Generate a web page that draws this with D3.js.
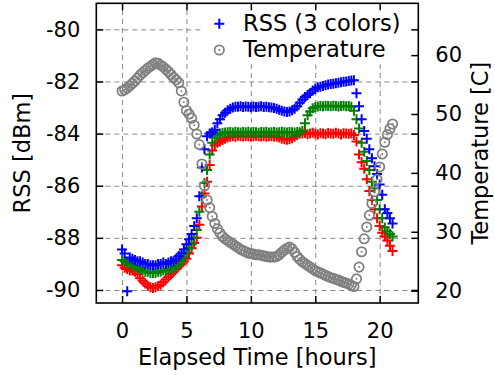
<!DOCTYPE html>
<html>
<head>
<meta charset="utf-8">
<script src="https://cdn.jsdelivr.net/npm/d3@7"></script>
<style>
  body { margin: 0; background: #fff; }
  text { font-family: "DejaVu Sans", sans-serif; fill: #000; }
</style>
</head>
<body>
<svg id="chart" width="495" height="375"></svg>
<script>
// sample times (hours)
var hours = [
    0,0.2,0.4,0.6,0.8,1,1.2,1.4,1.6,1.8,
    2,2.2,2.4,2.6,2.8,3,3.2,3.4,3.6,3.8,
    4,4.2,4.4,4.6,4.8,5,5.2,5.4,5.6,5.8,
    6,6.2,6.4,6.6,6.8,7,7.2,7.4,7.6,7.8,
    8,8.2,8.4,8.6,8.8,9,9.2,9.4,9.6,9.8,
    10,10.2,10.4,10.6,10.8,11,11.2,11.4,11.6,11.8,
    12,12.2,12.4,12.6,12.8,13,13.2,13.4,13.6,13.8,
    14,14.2,14.4,14.6,14.8,15,15.2,15.4,15.6,15.8,
    16,16.2,16.4,16.6,16.8,17,17.2,17.4,17.6,17.8,
    18,18.2,18.4,18.6,18.8,19,19.2,19.4,19.6,19.8,
    20,20.2,20.4,20.6,20.8,21
];
// RSS [dBm], three colours
var rssBlue = [
    -88.45,-88.6,-90.05,-88.75,-88.8,-88.85,-88.9,-88.9,-88.95,-89.0,
    -89.0,-89.05,-89.05,-89.05,-89.0,-89.0,-88.95,-89.0,-88.95,-88.9,
    -88.9,-88.8,-88.7,-88.6,-88.45,-88.25,-88.05,-87.85,-87.55,-87.25,
    -86.4,-85.3,-84.6,-84.1,-84.0,-83.95,-83.85,-83.6,-83.45,-83.3,
    -83.2,-83.1,-83.05,-83.0,-82.97,-82.97,-82.95,-82.98,-82.96,-82.97,
    -82.99,-82.96,-82.98,-82.97,-82.95,-82.98,-82.97,-82.99,-83.0,-83.02,
    -83.05,-83.08,-83.12,-83.15,-83.17,-83.15,-83.1,-83.05,-82.95,-82.82,
    -82.7,-82.6,-82.52,-82.45,-82.35,-82.28,-82.22,-82.2,-82.17,-82.14,
    -82.12,-82.1,-82.09,-82.07,-82.05,-82.03,-82.01,-82.0,-81.98,-81.96,
    -81.95,-82.45,-82.95,-83.45,-83.9,-84.2,-84.6,-84.95,-85.25,-85.55,
    -85.95,-86.35,-86.9,-87.05,-87.25,-87.45
];
var rssGreen = [
    -88.85,-88.9,-88.95,-89.0,-89.05,-89.1,-89.15,-89.2,-89.25,-89.3,
    -89.3,-89.35,-89.35,-89.35,-89.3,-89.3,-89.25,-89.25,-89.2,-89.2,
    -89.15,-89.1,-89.0,-88.9,-88.75,-88.55,-88.4,-88.25,-88.0,-87.7,
    -87.0,-86.4,-85.9,-85.4,-84.8,-84.35,-84.15,-84.05,-84.0,-83.97,
    -83.96,-83.95,-83.94,-83.96,-83.93,-83.95,-83.96,-83.94,-83.95,-83.93,
    -83.96,-83.94,-83.95,-83.97,-83.94,-83.95,-83.93,-83.96,-83.95,-83.94,
    -83.96,-83.95,-83.93,-83.95,-83.96,-83.94,-83.95,-83.96,-83.94,-83.95,
    -83.9,-83.6,-83.3,-83.15,-83.03,-82.98,-82.96,-82.94,-82.95,-82.93,
    -82.94,-82.95,-82.93,-82.94,-82.96,-82.94,-82.93,-82.95,-82.94,-82.97,
    -83.12,-83.45,-83.8,-84.35,-84.7,-85.05,-85.4,-85.85,-86.1,-86.55,
    -86.9,-87.25,-87.6,-87.75,-87.85,-87.95
];
var rssRed = [
    -89.05,-89.15,-89.2,-89.25,-89.25,-89.3,-89.4,-89.55,-89.65,-89.75,
    -89.85,-89.9,-89.92,-89.9,-89.85,-89.8,-89.7,-89.6,-89.5,-89.4,
    -89.3,-89.2,-89.1,-89.0,-88.9,-88.8,-88.6,-88.4,-88.2,-88.0,
    -87.5,-86.8,-86.3,-85.85,-85.2,-84.65,-84.45,-84.35,-84.3,-84.25,
    -84.2,-84.15,-84.12,-84.1,-84.12,-84.08,-84.1,-84.11,-84.09,-84.1,
    -84.12,-84.1,-84.08,-84.1,-84.11,-84.09,-84.12,-84.1,-84.1,-84.11,
    -84.12,-84.15,-84.2,-84.22,-84.24,-84.22,-84.18,-84.12,-84.05,-84.0,
    -84.0,-83.98,-84.02,-84.0,-83.97,-84.01,-84.03,-83.99,-84.0,-84.02,
    -83.98,-84.0,-84.01,-83.97,-84.0,-84.03,-83.99,-84.0,-84.01,-84.0,
    -84.05,-84.3,-84.8,-85.1,-85.35,-85.75,-86.2,-86.55,-86.9,-87.25,
    -87.55,-87.8,-87.95,-88.1,-88.3,-88.5
];
// temperature [C]
var temperature = [
    53.9,54.1,54.4,54.8,55.2,55.6,56.1,56.6,57.0,57.4,
    57.8,58.1,58.4,58.7,58.6,58.3,58.0,57.6,57.2,56.7,
    56.2,55.8,55.3,53.9,52.0,50.6,50.0,49.3,48.1,46.6,
    44.8,41.5,37.8,35.4,34.1,32.6,31.4,30.5,29.8,29.2,
    28.8,28.5,28.2,27.9,27.6,27.3,27.0,26.8,26.6,26.4,
    26.3,26.2,26.1,26.1,26.0,25.9,25.8,25.7,25.7,25.7,
    25.8,26.1,26.5,26.9,27.2,27.4,27.1,26.5,25.8,25.3,
    24.9,24.6,24.3,24.0,23.7,23.4,23.2,23.0,22.8,22.6,
    22.4,22.2,22.1,21.9,21.8,21.6,21.4,21.3,21.1,20.9,
    20.7,22.0,24.0,26.6,28.8,30.8,32.8,34.8,36.8,38.9,
    41.0,43.2,45.2,46.5,47.5,48.3
];
var xTicks = [0, 5, 10, 15, 20];
var rssTicks = [-90, -88, -86, -84, -82, -80];
var tempTicks = [20, 30, 40, 50, 60];

var svg = d3.select("#chart");
var plot = {left: 96.3, right: 418.3, top: 3.3, bottom: 303};

var x = d3.scaleLinear().domain([-2, 23]).range([plot.left, plot.right]);
var yRss = d3.scaleLinear().domain([-90.5, -79]).range([plot.bottom, plot.top]);
var yTemp = d3.scaleLinear().domain([17.9, 68.8]).range([plot.bottom, plot.top]);

// grid
var grid = svg.append("g").attr("class", "grid");
grid.append("g")
    .attr("transform", "translate(0," + plot.bottom + ")")
    .call(d3.axisBottom(x).tickValues(xTicks).tickSize(-(plot.bottom - plot.top)).tickFormat(""));
grid.append("g")
    .attr("transform", "translate(" + plot.left + ",0)")
    .call(d3.axisLeft(yRss).tickValues(rssTicks).tickSize(-(plot.right - plot.left)).tickFormat(""));
grid.selectAll(".domain").remove();
grid.selectAll("line")
    .attr("stroke", "#888")
    .attr("stroke-width", 1)
    .attr("stroke-dasharray", "5,4");

// key background (opaque)
svg.append("rect")
    .attr("x", 203).attr("y", plot.top)
    .attr("width", plot.right - 203).attr("height", 61)
    .attr("fill", "#fff");

// data
var plusPath = "M-5,0H5M0,-5V5";
var plusWidth = 2;
function drawRss(values, color) {
    svg.append("g").selectAll("path")
        .data(values)
        .enter().append("path")
        .attr("d", plusPath)
        .attr("transform", function (d, i) {
            return "translate(" + x(hours[i]) + "," + yRss(d) + ")";
        })
        .attr("fill", "none")
        .attr("stroke", color)
        .attr("stroke-width", plusWidth);
}
drawRss(rssRed, "#ff0000");
drawRss(rssGreen, "#008000");
drawRss(rssBlue, "#0000ff");

var circR = 4.7, circW = 1.7;
var tempG = svg.append("g");
var circ = tempG.selectAll("g")
    .data(temperature)
    .enter().append("g")
    .attr("transform", function (d, i) {
        return "translate(" + x(hours[i]) + "," + yTemp(d) + ")";
    });
circ.append("circle")
    .attr("r", circR)
    .attr("fill", "none")
    .attr("stroke", "#808080")
    .attr("stroke-width", circW);
circ.append("circle")
    .attr("r", 1)
    .attr("fill", "#808080");

// axes
var axisFont = 21;
var gx = svg.append("g")
    .attr("transform", "translate(0," + plot.bottom + ")")
    .call(d3.axisBottom(x).tickValues(xTicks).tickSize(-7).tickPadding(20));
var gxTop = svg.append("g")
    .attr("transform", "translate(0," + plot.top + ")")
    .call(d3.axisTop(x).tickValues(xTicks).tickSize(-7).tickFormat(""));
var gy = svg.append("g")
    .attr("transform", "translate(" + plot.left + ",0)")
    .call(d3.axisLeft(yRss).tickValues(rssTicks).tickSize(-7).tickPadding(16));
var gyMirror = svg.append("g")
    .attr("transform", "translate(" + plot.right + ",0)")
    .call(d3.axisRight(yRss).tickValues(rssTicks).tickSize(-7).tickFormat(""));
var gy2 = svg.append("g")
    .attr("transform", "translate(" + plot.right + ",0)")
    .call(d3.axisRight(yTemp).tickValues(tempTicks).tickSize(-7).tickPadding(17));

[gx, gxTop, gy, gyMirror, gy2].forEach(function (g) {
    g.select(".domain").remove();
    g.selectAll("line").attr("stroke", "#000").attr("stroke-width", 1.5);
    g.selectAll("text")
        .attr("font-family", "DejaVu Sans, sans-serif")
        .attr("font-size", axisFont)
        .attr("fill", "#000");
});
gy.selectAll("text").text(function (d) { return d; });

// frame
svg.append("rect")
    .attr("x", plot.left).attr("y", plot.top)
    .attr("width", plot.right - plot.left).attr("height", plot.bottom - plot.top)
    .attr("fill", "none")
    .attr("stroke", "#000")
    .attr("stroke-width", 1.6);

// axis titles
var labelFont = 22.5;
svg.append("text")
    .attr("x", (plot.left + plot.right) / 2).attr("y", 365)
    .attr("text-anchor", "middle")
    .attr("font-size", labelFont)
    .text("Elapsed Time [hours]");
svg.append("text")
    .attr("transform", "translate(30," + (plot.top + plot.bottom) / 2 + ")rotate(-90)")
    .attr("text-anchor", "middle")
    .attr("font-size", labelFont)
    .text("RSS [dBm]");
svg.append("text")
    .attr("transform", "translate(488," + (plot.top + plot.bottom) / 2 + ")rotate(-90)")
    .attr("text-anchor", "middle")
    .attr("font-size", labelFont)
    .text("Temperature [C]");

// key
var key = svg.append("g");
key.append("path")
    .attr("d", plusPath)
    .attr("transform", "translate(219.3,23.7)")
    .attr("fill", "none")
    .attr("stroke", "#0000ff")
    .attr("stroke-width", plusWidth);
key.append("text")
    .attr("x", 243).attr("y", 31)
    .attr("font-size", labelFont)
    .text("RSS (3 colors)");
key.append("circle")
    .attr("cx", 219.3).attr("cy", 50)
    .attr("r", circR)
    .attr("fill", "none")
    .attr("stroke", "#808080")
    .attr("stroke-width", circW);
key.append("circle")
    .attr("cx", 219.3).attr("cy", 50)
    .attr("r", 1)
    .attr("fill", "#808080");
key.append("text")
    .attr("x", 243).attr("y", 57)
    .attr("font-size", labelFont)
    .text("Temperature");
</script>
</body>
</html>
